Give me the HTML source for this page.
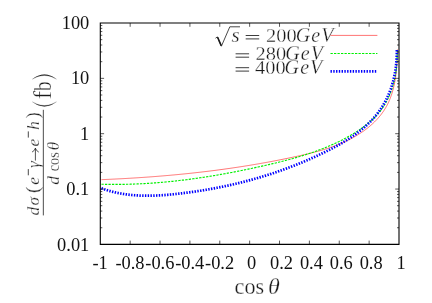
<!DOCTYPE html>
<html><head><meta charset="utf-8"><title>plot</title>
<style>
html,body{margin:0;padding:0;background:#fff;}
body{width:432px;height:303px;overflow:hidden;font-family:"Liberation Serif",serif;}
svg{display:block;will-change:transform;}
text{font-family:"Liberation Serif",serif;}
.tk text{font-size:18.4px;fill:#111;}
.m{font-style:italic;}
.tx text{stroke:#fff;stroke-width:0.3px;}
</style></head><body>
<svg width="432" height="303" viewBox="0 0 432 303">
<rect width="432" height="303" fill="#fff"/>
<!-- curves -->
<path d="M101.43,179.66 L102.43,179.62 L103.44,179.58 L104.44,179.54 L105.45,179.49 L106.45,179.45 L107.46,179.40 L108.46,179.36 L109.47,179.31 L110.47,179.27 L111.47,179.22 L112.48,179.17 L113.48,179.13 L114.48,179.08 L115.49,179.03 L116.49,178.98 L117.49,178.93 L118.50,178.87 L119.50,178.82 L120.50,178.77 L121.50,178.72 L122.50,178.66 L123.51,178.61 L124.51,178.55 L125.51,178.50 L126.51,178.44 L127.51,178.38 L128.51,178.32 L129.51,178.27 L130.51,178.21 L131.51,178.15 L132.51,178.09 L133.51,178.02 L134.51,177.96 L135.51,177.90 L136.51,177.83 L137.51,177.77 L138.51,177.71 L139.51,177.64 L140.51,177.57 L141.51,177.51 L142.51,177.44 L143.51,177.37 L144.51,177.30 L145.50,177.23 L146.50,177.16 L147.50,177.09 L148.50,177.02 L149.50,176.94 L150.49,176.87 L151.49,176.80 L152.49,176.72 L153.48,176.65 L154.48,176.57 L155.48,176.49 L156.47,176.41 L157.47,176.33 L158.47,176.25 L159.46,176.17 L160.46,176.09 L161.46,176.01 L162.45,175.93 L163.45,175.85 L164.44,175.76 L165.44,175.68 L166.43,175.59 L167.43,175.50 L168.42,175.42 L169.42,175.33 L170.41,175.24 L171.41,175.15 L172.40,175.06 L173.39,174.97 L174.39,174.88 L175.38,174.78 L176.38,174.69 L177.37,174.60 L178.36,174.50 L179.36,174.40 L180.35,174.31 L181.34,174.21 L182.34,174.11 L183.33,174.01 L184.32,173.91 L185.31,173.81 L186.31,173.71 L187.30,173.61 L188.29,173.50 L189.28,173.40 L190.28,173.29 L191.27,173.19 L192.26,173.08 L193.25,172.97 L194.24,172.86 L195.23,172.75 L196.22,172.64 L197.22,172.53 L198.21,172.42 L199.20,172.31 L200.19,172.19 L201.18,172.08 L202.17,171.96 L203.16,171.85 L204.15,171.73 L205.14,171.61 L206.13,171.49 L207.12,171.37 L208.11,171.25 L209.10,171.13 L210.09,171.00 L211.08,170.88 L212.07,170.76 L213.06,170.63 L214.05,170.50 L215.03,170.38 L216.02,170.25 L217.01,170.12 L218.00,169.99 L218.99,169.86 L219.98,169.73 L220.97,169.59 L221.95,169.46 L222.94,169.33 L223.93,169.19 L224.92,169.05 L225.91,168.92 L226.89,168.78 L227.88,168.64 L228.87,168.50 L229.86,168.36 L230.84,168.21 L231.83,168.07 L232.82,167.93 L233.80,167.78 L234.79,167.64 L235.78,167.49 L236.77,167.34 L237.75,167.19 L238.74,167.04 L239.72,166.89 L240.71,166.74 L241.70,166.59 L242.68,166.43 L243.67,166.28 L244.66,166.12 L245.64,165.96 L246.63,165.81 L247.61,165.65 L248.60,165.49 L249.58,165.33 L250.57,165.16 L251.55,165.00 L252.54,164.84 L253.52,164.67 L254.51,164.50 L255.49,164.34 L256.48,164.17 L257.46,164.00 L258.45,163.83 L259.43,163.66 L260.42,163.49 L261.40,163.31 L262.39,163.14 L263.37,162.96 L264.35,162.79 L265.34,162.61 L266.32,162.43 L267.31,162.25 L268.29,162.07 L269.27,161.89 L270.26,161.71 L271.24,161.52 L272.23,161.34 L273.21,161.15 L274.19,160.96 L275.18,160.78 L276.16,160.59 L277.14,160.40 L278.13,160.20 L279.11,160.01 L280.09,159.82 L281.07,159.62 L282.06,159.43 L283.04,159.23 L284.02,159.03 L285.00,158.83 L285.99,158.63 L286.97,158.43 L287.95,158.23 L288.93,158.03 L289.92,157.82 L290.90,157.61 L291.88,157.41 L292.86,157.20 L293.85,156.99 L294.83,156.78 L295.81,156.57 L296.79,156.36 L297.77,156.14 L298.75,155.93 L299.74,155.71 L300.72,155.49 L301.70,155.27 L302.68,155.05 L303.66,154.83 L304.64,154.60 L305.62,154.37 L306.60,154.14 L307.57,153.91 L308.55,153.67 L309.53,153.44 L310.50,153.19 L311.48,152.95 L312.45,152.71 L313.43,152.46 L314.40,152.20 L315.37,151.95 L316.34,151.69 L317.31,151.43 L318.28,151.16 L319.24,150.89 L320.21,150.61 L321.17,150.34 L322.13,150.05 L323.10,149.77 L324.06,149.48 L325.01,149.18 L325.97,148.88 L326.93,148.58 L327.88,148.27 L328.83,147.96 L329.78,147.64 L330.73,147.31 L331.68,146.98 L332.62,146.65 L333.56,146.31 L334.50,145.96 L335.44,145.61 L336.38,145.26 L337.31,144.89 L338.24,144.52 L339.17,144.15 L340.10,143.77 L341.02,143.38 L341.95,142.99 L342.87,142.58 L343.78,142.18 L344.70,141.76 L345.61,141.34 L346.52,140.91 L347.43,140.48 L348.33,140.04 L349.23,139.59 L350.12,139.13 L351.02,138.67 L351.91,138.20 L352.79,137.72 L353.67,137.23 L354.55,136.74 L355.42,136.24 L356.28,135.74 L357.14,135.22 L358.00,134.70 L358.85,134.17 L359.70,133.63 L360.53,133.09 L361.37,132.54 L362.20,131.98 L363.02,131.41 L363.83,130.84 L364.64,130.26 L365.44,129.67 L366.23,129.07 L367.02,128.47 L367.80,127.85 L368.57,127.23 L369.33,126.60 L370.09,125.97 L370.84,125.32 L371.58,124.67 L372.31,124.01 L373.03,123.35 L373.74,122.67 L374.45,121.99 L375.14,121.29 L375.83,120.59 L376.50,119.88 L377.17,119.17 L377.83,118.44 L378.47,117.71 L379.11,116.97 L379.73,116.22 L380.35,115.46 L380.95,114.70 L381.54,113.92 L382.12,113.14 L382.69,112.35 L383.25,111.55 L383.80,110.74 L384.33,109.92 L384.85,109.09 L385.36,108.26 L385.86,107.42 L386.34,106.57 L386.82,105.71 L387.27,104.84 L387.72,103.96 L388.15,103.07 L388.57,102.18 L388.98,101.28 L389.37,100.37 L389.76,99.45 L390.13,98.52 L390.49,97.59 L390.83,96.66 L391.17,95.71 L391.50,94.76 L391.81,93.81 L392.11,92.85 L392.40,91.88 L392.69,90.91 L392.96,89.93 L393.22,88.95 L393.47,87.97 L393.71,86.98 L393.95,85.98 L394.17,84.99 L394.38,83.99 L394.59,82.99 L394.78,81.98 L394.97,80.97 L395.15,79.96 L395.32,78.95 L395.48,77.94 L395.64,76.92 L395.78,75.91 L395.92,74.89 L396.06,73.87 L396.18,72.85 L396.30,71.83 L396.41,70.82 L396.51,69.80 L396.61,68.78 L396.70,67.76 L396.79,66.75 L396.87,65.73 L396.94,64.72 L397.01,63.71 L397.07,62.70 L397.13,61.70 L397.18,60.69 L397.23,59.69 L397.28,58.70 L397.31,57.70 L397.35,56.71 L397.38,55.72 L397.41,54.74 L397.43,53.76 L397.45,52.79 L397.47,51.82 L397.48,50.86 L397.49,49.90 L397.49,49.46" fill="none" stroke="#ff0000" stroke-width="0.55"/>
<path d="M101.45,184.22 L102.45,184.25 L103.46,184.27 L104.46,184.29 L105.47,184.32 L106.47,184.33 L107.48,184.35 L108.48,184.37 L109.49,184.38 L110.49,184.39 L111.50,184.40 L112.50,184.41 L113.51,184.41 L114.51,184.41 L115.51,184.41 L116.52,184.41 L117.52,184.41 L118.52,184.40 L119.52,184.40 L120.53,184.39 L121.53,184.37 L122.53,184.36 L123.53,184.35 L124.54,184.33 L125.54,184.31 L126.54,184.29 L127.54,184.26 L128.54,184.24 L129.54,184.21 L130.54,184.18 L131.54,184.15 L132.54,184.12 L133.54,184.08 L134.54,184.05 L135.54,184.01 L136.54,183.97 L137.54,183.92 L138.54,183.88 L139.54,183.83 L140.54,183.79 L141.54,183.74 L142.54,183.68 L143.53,183.63 L144.53,183.58 L145.53,183.52 L146.53,183.46 L147.53,183.40 L148.52,183.34 L149.52,183.27 L150.52,183.21 L151.51,183.14 L152.51,183.07 L153.51,183.00 L154.50,182.92 L155.50,182.85 L156.49,182.77 L157.49,182.69 L158.49,182.61 L159.48,182.53 L160.48,182.45 L161.47,182.36 L162.47,182.28 L163.46,182.19 L164.46,182.10 L165.45,182.00 L166.44,181.91 L167.44,181.82 L168.43,181.72 L169.42,181.62 L170.42,181.52 L171.41,181.42 L172.40,181.32 L173.40,181.21 L174.39,181.10 L175.38,181.00 L176.37,180.89 L177.37,180.77 L178.36,180.66 L179.35,180.55 L180.34,180.43 L181.33,180.31 L182.32,180.19 L183.31,180.07 L184.30,179.95 L185.30,179.83 L186.29,179.70 L187.28,179.58 L188.27,179.45 L189.26,179.32 L190.25,179.19 L191.24,179.05 L192.22,178.92 L193.21,178.78 L194.20,178.65 L195.19,178.51 L196.18,178.37 L197.17,178.23 L198.16,178.09 L199.14,177.94 L200.13,177.80 L201.12,177.65 L202.11,177.50 L203.09,177.35 L204.08,177.20 L205.07,177.05 L206.06,176.89 L207.04,176.74 L208.03,176.58 L209.02,176.42 L210.00,176.27 L210.99,176.10 L211.97,175.94 L212.96,175.78 L213.94,175.62 L214.93,175.45 L215.91,175.28 L216.90,175.11 L217.88,174.95 L218.87,174.77 L219.85,174.60 L220.84,174.43 L221.82,174.25 L222.80,174.08 L223.79,173.90 L224.77,173.72 L225.75,173.54 L226.74,173.36 L227.72,173.18 L228.70,173.00 L229.69,172.82 L230.67,172.63 L231.65,172.44 L232.63,172.26 L233.61,172.07 L234.60,171.88 L235.58,171.69 L236.56,171.49 L237.54,171.30 L238.52,171.11 L239.50,170.91 L240.48,170.71 L241.46,170.52 L242.44,170.32 L243.42,170.12 L244.40,169.92 L245.38,169.72 L246.36,169.51 L247.34,169.31 L248.32,169.10 L249.30,168.90 L250.28,168.69 L251.26,168.48 L252.23,168.27 L253.21,168.06 L254.19,167.85 L255.17,167.64 L256.15,167.43 L257.12,167.21 L258.10,167.00 L259.08,166.78 L260.06,166.57 L261.03,166.35 L262.01,166.13 L262.99,165.91 L263.96,165.69 L264.94,165.47 L265.91,165.24 L266.89,165.02 L267.87,164.80 L268.84,164.57 L269.82,164.34 L270.79,164.12 L271.77,163.89 L272.74,163.66 L273.71,163.42 L274.69,163.19 L275.66,162.96 L276.63,162.72 L277.60,162.48 L278.58,162.24 L279.55,162.00 L280.52,161.76 L281.49,161.52 L282.46,161.27 L283.43,161.02 L284.40,160.77 L285.37,160.52 L286.33,160.27 L287.30,160.01 L288.27,159.75 L289.23,159.49 L290.20,159.23 L291.16,158.97 L292.13,158.70 L293.09,158.43 L294.05,158.16 L295.01,157.89 L295.97,157.61 L296.93,157.33 L297.89,157.05 L298.85,156.77 L299.81,156.48 L300.77,156.20 L301.72,155.90 L302.68,155.61 L303.63,155.31 L304.58,155.01 L305.54,154.71 L306.49,154.41 L307.44,154.10 L308.39,153.79 L309.34,153.47 L310.28,153.15 L311.23,152.83 L312.18,152.51 L313.12,152.18 L314.06,151.85 L315.00,151.52 L315.94,151.18 L316.88,150.84 L317.82,150.49 L318.76,150.14 L319.70,149.79 L320.63,149.44 L321.56,149.08 L322.50,148.71 L323.43,148.35 L324.36,147.98 L325.28,147.60 L326.21,147.22 L327.14,146.84 L328.06,146.46 L328.98,146.06 L329.90,145.67 L330.82,145.27 L331.74,144.87 L332.66,144.46 L333.58,144.05 L334.49,143.63 L335.40,143.21 L336.31,142.79 L337.22,142.36 L338.13,141.92 L339.04,141.49 L339.94,141.04 L340.84,140.60 L341.74,140.14 L342.64,139.69 L343.54,139.22 L344.44,138.76 L345.33,138.28 L346.22,137.81 L347.11,137.32 L347.99,136.84 L348.87,136.34 L349.75,135.84 L350.63,135.34 L351.50,134.83 L352.37,134.32 L353.23,133.80 L354.09,133.27 L354.95,132.74 L355.80,132.20 L356.65,131.66 L357.49,131.11 L358.33,130.56 L359.16,130.00 L359.98,129.43 L360.81,128.86 L361.62,128.28 L362.43,127.69 L363.23,127.10 L364.03,126.50 L364.82,125.90 L365.61,125.28 L366.39,124.67 L367.16,124.04 L367.92,123.41 L368.68,122.77 L369.43,122.13 L370.17,121.48 L370.90,120.82 L371.63,120.15 L372.35,119.48 L373.06,118.80 L373.76,118.11 L374.45,117.42 L375.14,116.71 L375.81,116.00 L376.48,115.29 L377.13,114.56 L377.78,113.83 L378.42,113.09 L379.04,112.34 L379.66,111.59 L380.27,110.82 L380.87,110.05 L381.45,109.27 L382.03,108.49 L382.59,107.69 L383.15,106.89 L383.69,106.08 L384.22,105.26 L384.74,104.43 L385.24,103.59 L385.74,102.74 L386.22,101.89 L386.70,101.03 L387.16,100.16 L387.60,99.28 L388.04,98.40 L388.47,97.51 L388.88,96.61 L389.28,95.70 L389.68,94.79 L390.06,93.87 L390.43,92.95 L390.79,92.02 L391.14,91.08 L391.47,90.14 L391.80,89.19 L392.12,88.24 L392.42,87.28 L392.72,86.32 L393.00,85.35 L393.28,84.38 L393.54,83.40 L393.80,82.42 L394.04,81.44 L394.28,80.45 L394.50,79.46 L394.72,78.47 L394.92,77.47 L395.12,76.47 L395.31,75.47 L395.48,74.46 L395.65,73.46 L395.81,72.45 L395.96,71.44 L396.10,70.43 L396.23,69.42 L396.36,68.40 L396.47,67.39 L396.58,66.37 L396.67,65.35 L396.76,64.34 L396.84,63.32 L396.91,62.30 L396.97,61.29 L397.03,60.27 L397.08,59.26 L397.11,58.24 L397.14,57.23 L397.17,56.22 L397.18,55.21 L397.19,54.20 L397.19,53.19 L397.18,52.19 L397.16,51.19 L397.14,50.19 L397.11,49.26" fill="none" stroke="#00f000" stroke-width="1.15" stroke-dasharray="2.3 1.2"/>
<path d="M101.47,188.27 L102.42,188.62 L103.38,188.96 L104.33,189.29 L105.29,189.62 L106.25,189.93 L107.21,190.23 L108.18,190.52 L109.14,190.81 L110.11,191.08 L111.07,191.35 L112.04,191.61 L113.01,191.85 L113.98,192.09 L114.95,192.32 L115.93,192.54 L116.90,192.76 L117.88,192.96 L118.86,193.16 L119.84,193.35 L120.82,193.53 L121.80,193.70 L122.78,193.86 L123.76,194.02 L124.75,194.17 L125.73,194.31 L126.72,194.45 L127.70,194.57 L128.69,194.69 L129.68,194.80 L130.67,194.91 L131.66,195.01 L132.65,195.10 L133.64,195.18 L134.64,195.26 L135.63,195.33 L136.62,195.40 L137.62,195.46 L138.62,195.51 L139.61,195.56 L140.61,195.60 L141.61,195.63 L142.60,195.66 L143.60,195.68 L144.60,195.70 L145.60,195.71 L146.60,195.72 L147.60,195.72 L148.60,195.72 L149.60,195.71 L150.60,195.69 L151.60,195.67 L152.61,195.65 L153.61,195.62 L154.61,195.59 L155.61,195.55 L156.62,195.51 L157.62,195.46 L158.62,195.41 L159.62,195.36 L160.63,195.30 L161.63,195.24 L162.63,195.17 L163.63,195.10 L164.64,195.03 L165.64,194.95 L166.64,194.87 L167.65,194.79 L168.65,194.70 L169.65,194.61 L170.65,194.52 L171.65,194.42 L172.65,194.32 L173.66,194.22 L174.66,194.12 L175.66,194.01 L176.66,193.90 L177.66,193.79 L178.65,193.68 L179.65,193.57 L180.65,193.45 L181.65,193.33 L182.64,193.21 L183.64,193.09 L184.64,192.96 L185.63,192.84 L186.63,192.71 L187.62,192.58 L188.62,192.45 L189.61,192.31 L190.60,192.18 L191.59,192.04 L192.59,191.90 L193.58,191.76 L194.57,191.62 L195.56,191.47 L196.55,191.32 L197.54,191.17 L198.52,191.02 L199.51,190.87 L200.50,190.71 L201.49,190.56 L202.47,190.40 L203.46,190.24 L204.45,190.07 L205.43,189.91 L206.41,189.74 L207.40,189.57 L208.38,189.40 L209.36,189.23 L210.35,189.06 L211.33,188.88 L212.31,188.70 L213.29,188.52 L214.27,188.34 L215.25,188.15 L216.23,187.96 L217.21,187.77 L218.18,187.58 L219.16,187.39 L220.14,187.20 L221.11,187.00 L222.09,186.80 L223.06,186.60 L224.04,186.39 L225.01,186.19 L225.99,185.98 L226.96,185.77 L227.93,185.56 L228.90,185.35 L229.88,185.13 L230.85,184.91 L231.82,184.69 L232.79,184.47 L233.75,184.25 L234.72,184.02 L235.69,183.79 L236.66,183.56 L237.63,183.33 L238.59,183.10 L239.56,182.86 L240.52,182.62 L241.49,182.38 L242.45,182.14 L243.41,181.89 L244.38,181.65 L245.34,181.40 L246.30,181.14 L247.26,180.89 L248.22,180.64 L249.18,180.38 L250.14,180.12 L251.10,179.86 L252.06,179.59 L253.02,179.32 L253.97,179.06 L254.93,178.79 L255.89,178.51 L256.84,178.24 L257.80,177.96 L258.75,177.68 L259.71,177.40 L260.66,177.11 L261.61,176.83 L262.56,176.54 L263.52,176.25 L264.47,175.96 L265.42,175.66 L266.37,175.36 L267.32,175.06 L268.26,174.76 L269.21,174.46 L270.16,174.15 L271.11,173.85 L272.05,173.53 L273.00,173.22 L273.94,172.91 L274.89,172.59 L275.83,172.27 L276.78,171.95 L277.72,171.62 L278.66,171.30 L279.60,170.97 L280.54,170.64 L281.48,170.31 L282.42,169.97 L283.36,169.63 L284.30,169.29 L285.24,168.95 L286.18,168.61 L287.11,168.26 L288.05,167.91 L288.99,167.56 L289.92,167.20 L290.86,166.85 L291.79,166.49 L292.72,166.13 L293.65,165.77 L294.59,165.40 L295.52,165.03 L296.45,164.66 L297.38,164.29 L298.31,163.92 L299.24,163.54 L300.17,163.16 L301.09,162.78 L302.02,162.39 L302.95,162.01 L303.87,161.62 L304.80,161.23 L305.72,160.83 L306.65,160.44 L307.57,160.04 L308.50,159.64 L309.42,159.24 L310.34,158.83 L311.26,158.42 L312.18,158.01 L313.10,157.60 L314.02,157.18 L314.94,156.77 L315.86,156.35 L316.78,155.92 L317.69,155.50 L318.61,155.07 L319.52,154.64 L320.44,154.21 L321.35,153.78 L322.27,153.34 L323.18,152.90 L324.09,152.46 L325.00,152.01 L325.92,151.57 L326.82,151.12 L327.73,150.66 L328.64,150.21 L329.55,149.75 L330.45,149.29 L331.35,148.82 L332.25,148.36 L333.15,147.89 L334.05,147.41 L334.94,146.93 L335.84,146.45 L336.73,145.97 L337.62,145.48 L338.50,144.99 L339.38,144.49 L340.26,144.00 L341.14,143.49 L342.02,142.99 L342.89,142.47 L343.75,141.96 L344.62,141.44 L345.48,140.92 L346.34,140.39 L347.19,139.86 L348.04,139.32 L348.89,138.78 L349.73,138.23 L350.56,137.68 L351.40,137.13 L352.23,136.57 L353.05,136.00 L353.87,135.43 L354.69,134.86 L355.50,134.28 L356.30,133.70 L357.10,133.11 L357.90,132.51 L358.69,131.91 L359.47,131.30 L360.25,130.69 L361.02,130.07 L361.79,129.45 L362.55,128.82 L363.30,128.19 L364.05,127.55 L364.80,126.90 L365.53,126.25 L366.26,125.59 L366.99,124.93 L367.70,124.25 L368.41,123.58 L369.11,122.89 L369.81,122.20 L370.50,121.51 L371.18,120.80 L371.85,120.09 L372.52,119.38 L373.18,118.65 L373.83,117.92 L374.47,117.19 L375.11,116.44 L375.74,115.69 L376.36,114.93 L376.97,114.17 L377.57,113.39 L378.16,112.61 L378.75,111.83 L379.32,111.03 L379.89,110.23 L380.45,109.42 L381.00,108.60 L381.54,107.77 L382.07,106.94 L382.59,106.10 L383.10,105.26 L383.61,104.40 L384.10,103.54 L384.59,102.68 L385.06,101.81 L385.53,100.93 L385.99,100.04 L386.44,99.15 L386.87,98.26 L387.30,97.35 L387.72,96.45 L388.13,95.53 L388.53,94.62 L388.92,93.69 L389.30,92.77 L389.67,91.83 L390.03,90.90 L390.38,89.95 L390.73,89.01 L391.06,88.06 L391.38,87.10 L391.69,86.14 L391.99,85.18 L392.28,84.21 L392.56,83.24 L392.83,82.27 L393.10,81.29 L393.35,80.31 L393.59,79.33 L393.82,78.34 L394.05,77.35 L394.26,76.36 L394.46,75.37 L394.66,74.38 L394.85,73.38 L395.02,72.38 L395.19,71.38 L395.35,70.38 L395.50,69.38 L395.64,68.38 L395.78,67.37 L395.90,66.37 L396.02,65.36 L396.13,64.36 L396.23,63.36 L396.32,62.35 L396.41,61.35 L396.48,60.34 L396.55,59.34 L396.61,58.34 L396.67,57.34 L396.71,56.34 L396.75,55.34 L396.78,54.34 L396.81,53.35 L396.82,52.36 L396.83,51.37 L396.84,50.38 L396.83,49.40" fill="none" stroke="#0000ff" stroke-width="2.7" stroke-dasharray="1.4 1.37"/>
<!-- frame -->
<path d="M100.3,22.5V244.9 M399.0,22.5V244.9 M99.8,23.0H399.5 M99.8,244.4H399.5" fill="none" stroke="#000" stroke-width="1.1"/>
<path d="M130.17,244.4v-3.8 M130.17,23.0v3.8 M160.04,244.4v-3.8 M160.04,23.0v3.8 M189.91,244.4v-3.8 M189.91,23.0v3.8 M219.78,244.4v-3.8 M219.78,23.0v3.8 M249.65,244.4v-3.8 M249.65,23.0v3.8 M279.52,244.4v-3.8 M279.52,23.0v3.8 M309.39,244.4v-3.8 M309.39,23.0v3.8 M339.26,244.4v-3.8 M339.26,23.0v3.8 M369.13,244.4v-3.8 M369.13,23.0v3.8 M100.3,61.69h2 M399.0,61.69h-2 M100.3,51.94h2 M399.0,51.94h-2 M100.3,45.03h2 M399.0,45.03h-2 M100.3,39.66h2 M399.0,39.66h-2 M100.3,35.28h2 M399.0,35.28h-2 M100.3,31.57h2 M399.0,31.57h-2 M100.3,28.36h2 M399.0,28.36h-2 M100.3,25.53h2 M399.0,25.53h-2 M100.3,78.35h3.8 M399.0,78.35h-3.8 M100.3,117.04h2 M399.0,117.04h-2 M100.3,107.29h2 M399.0,107.29h-2 M100.3,100.38h2 M399.0,100.38h-2 M100.3,95.01h2 M399.0,95.01h-2 M100.3,90.63h2 M399.0,90.63h-2 M100.3,86.92h2 M399.0,86.92h-2 M100.3,83.71h2 M399.0,83.71h-2 M100.3,80.88h2 M399.0,80.88h-2 M100.3,133.70h3.8 M399.0,133.70h-3.8 M100.3,172.39h2 M399.0,172.39h-2 M100.3,162.64h2 M399.0,162.64h-2 M100.3,155.73h2 M399.0,155.73h-2 M100.3,150.36h2 M399.0,150.36h-2 M100.3,145.98h2 M399.0,145.98h-2 M100.3,142.27h2 M399.0,142.27h-2 M100.3,139.06h2 M399.0,139.06h-2 M100.3,136.23h2 M399.0,136.23h-2 M100.3,189.05h3.8 M399.0,189.05h-3.8 M100.3,227.74h2 M399.0,227.74h-2 M100.3,217.99h2 M399.0,217.99h-2 M100.3,211.08h2 M399.0,211.08h-2 M100.3,205.71h2 M399.0,205.71h-2 M100.3,201.33h2 M399.0,201.33h-2 M100.3,197.62h2 M399.0,197.62h-2 M100.3,194.41h2 M399.0,194.41h-2 M100.3,191.58h2 M399.0,191.58h-2 " stroke="#000" stroke-width="0.65" fill="none"/>
<g class="tk"><text x="100.10" y="268.5" text-anchor="middle">-1</text><text x="129.97" y="268.5" text-anchor="middle">-0.8</text><text x="159.84" y="268.5" text-anchor="middle">-0.6</text><text x="189.71" y="268.5" text-anchor="middle">-0.4</text><text x="219.58" y="268.5" text-anchor="middle">-0.2</text><text x="251.65" y="268.5" text-anchor="middle">0</text><text x="281.52" y="268.5" text-anchor="middle">0.2</text><text x="311.39" y="268.5" text-anchor="middle">0.4</text><text x="341.26" y="268.5" text-anchor="middle">0.6</text><text x="371.13" y="268.5" text-anchor="middle">0.8</text><text x="401.00" y="268.5" text-anchor="middle">1</text><text x="89.3" y="29.10" text-anchor="end">100</text><text x="89.3" y="84.45" text-anchor="end">10</text><text x="89.3" y="139.80" text-anchor="end">1</text><text x="89.3" y="195.15" text-anchor="end">0.1</text><text x="89.3" y="250.50" text-anchor="end">0.01</text></g>
<!-- legend -->
<g class="tx" fill="#1a1a1a"><path d="M215.5,38.2 l1.9,-1.3 l4,9.3 l8.4,-19.4 h10.2" fill="none" stroke="#1a1a1a" stroke-width="0.8" stroke-linejoin="miter"/><path d="M217.6,37.2 l3.6,8.4" fill="none" stroke="#1a1a1a" stroke-width="1.6"/><text x="231.6" y="42" font-size="21" class="m">s</text><path d="M245.7,35.5h13.5 M245.7,38.9h13.5" stroke="#1a1a1a" stroke-width="0.85" fill="none"/><text x="266.1" y="42" font-size="19.8" textLength="30.6" lengthAdjust="spacingAndGlyphs">200</text><text x="295.70000000000005" y="42" font-size="20" class="m" letter-spacing="1.1">GeV</text><path d="M235.6,53.8h13.5 M235.6,57.199999999999996h13.5" stroke="#1a1a1a" stroke-width="0.85" fill="none"/><text x="255.6" y="60.1" font-size="19.8" textLength="30.6" lengthAdjust="spacingAndGlyphs">280</text><text x="285.2" y="60.1" font-size="20" class="m" letter-spacing="1.1">GeV</text><path d="M235.6,67.7h13.5 M235.6,71.1h13.5" stroke="#1a1a1a" stroke-width="0.85" fill="none"/><text x="255.0" y="74.2" font-size="19.8" textLength="30.6" lengthAdjust="spacingAndGlyphs">400</text><text x="284.6" y="74.2" font-size="20" class="m" letter-spacing="1.1">GeV</text></g>
<path d="M330.5,35.4H377.4" stroke="#ff0000" stroke-width="0.55" fill="none"/>
<path d="M330.5,53.5H377.4" stroke="#00f000" stroke-width="1.15" stroke-dasharray="2.3 1.2" fill="none"/>
<path d="M330.5,71.4H377.4" stroke="#0000ff" stroke-width="2.7" stroke-dasharray="1.4 1.37" fill="none"/>
<!-- x label -->
<g class="tx" fill="#1a1a1a"><text x="234.6" y="294.2" font-size="24" textLength="29.5" lengthAdjust="spacingAndGlyphs">cos</text><text x="268.1" y="294.2" font-size="24" class="m">θ</text></g>
<!-- y label -->
<g class="tx" transform="rotate(-90)" fill="#1a1a1a"><text x="-215.40" y="38.8" font-size="17.3" class="m">d</text><text x="-205.50" y="38.8" font-size="17.3" class="m">σ</text><text x="-184.70" y="38.8" font-size="17.3" class="m">e</text><text x="-168.10" y="38.8" font-size="17.3" class="m">γ</text><text x="-146.60" y="38.8" font-size="17.3" class="m">e</text><text x="-129.70" y="38.8" font-size="17.3" class="m">h</text><text x="-192.90" y="39.3" font-size="19">(</text><text x="-118.60" y="39.3" font-size="19">)</text><text x="-184.70" y="59.4" font-size="17.3" class="m">d</text><text x="-150.20" y="59.4" font-size="17.3" class="m">θ</text><text x="-171.30" y="59.4" font-size="16.8" textLength="19" lengthAdjust="spacingAndGlyphs">cos</text><rect x="-215.4" y="42.85" width="105.6" height="0.9" fill="#3a3a3a"/><text x="-99.30" y="50.9" font-size="25">f</text><text x="-91.10" y="50.9" font-size="25" textLength="9.6" lengthAdjust="spacingAndGlyphs">b</text></g><path d="M28.3,175.3V169.1 M28.3,137.6V131.4" stroke="#1a1a1a" stroke-width="0.8" fill="none"/><path d="M35.4,160.2V148.5 M32.4,151.9 Q34.8,150.6 35.4,148.2 Q36,150.6 38.4,151.9" stroke="#1a1a1a" stroke-width="0.75" fill="none" stroke-linecap="round"/><path d="M32.3,101.8 Q44.4,111.10000000000001 56.5,101.8 Q44.4,109.3 32.3,101.8Z" fill="#1a1a1a" stroke="#1a1a1a" stroke-width="0.15"/><path d="M32.3,79.2 Q44.4,69.89999999999999 56.5,79.2 Q44.4,71.7 32.3,79.2Z" fill="#1a1a1a" stroke="#1a1a1a" stroke-width="0.15"/>
</svg>
</body></html>
